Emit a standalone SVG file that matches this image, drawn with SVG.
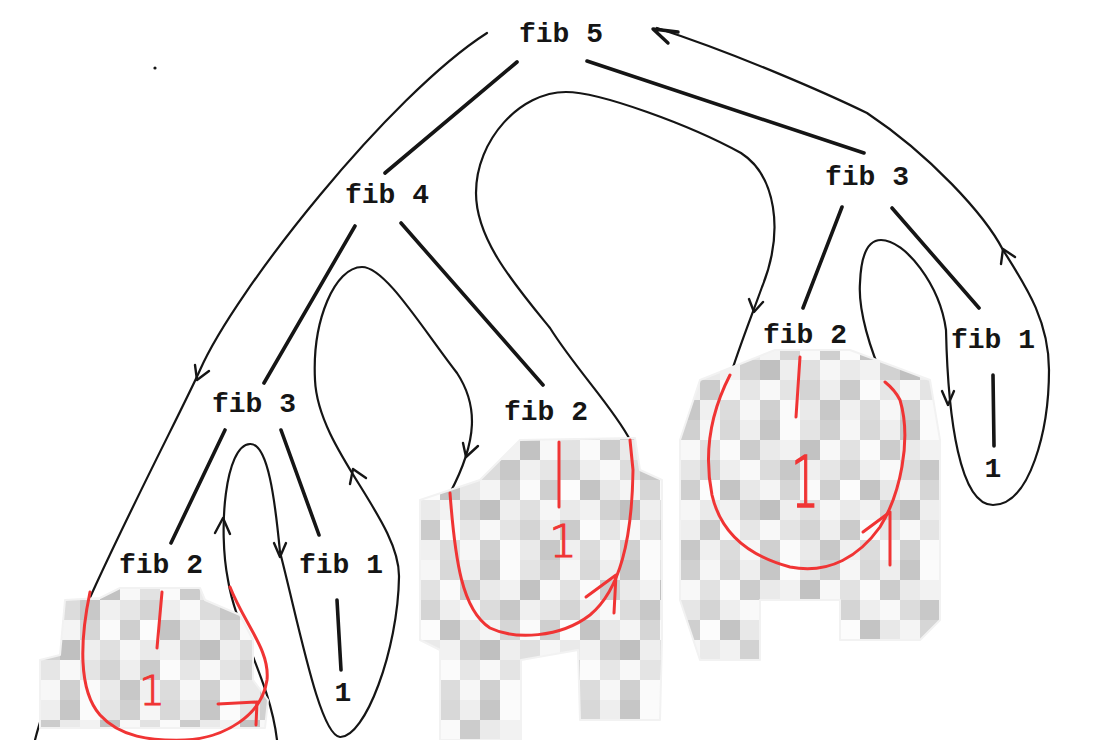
<svg xmlns="http://www.w3.org/2000/svg" width="1096" height="740" viewBox="0 0 1096 740">
<defs>
<style>
.lbl{font-family:"Liberation Mono","DejaVu Sans Mono",monospace;font-weight:bold;font-size:28px;text-anchor:middle;fill:#151515}
.edge{stroke:#151515;stroke-width:3.6;stroke-linecap:round;fill:none}
.trace{stroke:#151515;stroke-width:2.2;fill:none;stroke-linecap:round;stroke-linejoin:round}
.arr{stroke:#151515;stroke-width:2.4;fill:none;stroke-linecap:round;stroke-linejoin:round}
.red{stroke:#f03434;stroke-width:3;fill:none;stroke-linecap:round;stroke-linejoin:round}
.rtxt{font-family:"DejaVu Sans",sans-serif;font-weight:200;fill:#f03434;stroke:#f03434;stroke-width:1;text-anchor:middle}
.mosaic{fill:url(#mz);stroke:#f2f2f2;stroke-width:2;stroke-linejoin:round}
</style>
<pattern id="mz" width="140" height="140" patternUnits="userSpaceOnUse">
<rect width="140" height="140" fill="#ececec"/>
<rect x="0" y="0" width="20" height="20" fill="#f6f6f6"/><rect x="20" y="0" width="20" height="20" fill="#d8d8d8"/><rect x="40" y="0" width="20" height="20" fill="#eeeeee"/><rect x="60" y="0" width="20" height="20" fill="#c6c6c6"/><rect x="80" y="0" width="20" height="20" fill="#fbfbfb"/><rect x="100" y="0" width="20" height="20" fill="#e4e4e4"/><rect x="120" y="0" width="20" height="20" fill="#d0d0d0"/>
<rect x="0" y="20" width="20" height="20" fill="#e2e2e2"/><rect x="20" y="20" width="20" height="20" fill="#fafafa"/><rect x="40" y="20" width="20" height="20" fill="#cccccc"/><rect x="60" y="20" width="20" height="20" fill="#eaeaea"/><rect x="80" y="20" width="20" height="20" fill="#f2f2f2"/><rect x="100" y="20" width="20" height="20" fill="#c2c2c2"/><rect x="120" y="20" width="20" height="20" fill="#f8f8f8"/>
<rect x="0" y="40" width="20" height="20" fill="#d4d4d4"/><rect x="20" y="40" width="20" height="20" fill="#eeeeee"/><rect x="40" y="40" width="20" height="20" fill="#f9f9f9"/><rect x="60" y="40" width="20" height="20" fill="#dcdcdc"/><rect x="80" y="40" width="20" height="20" fill="#c8c8c8"/><rect x="100" y="40" width="20" height="20" fill="#f0f0f0"/><rect x="120" y="40" width="20" height="20" fill="#e6e6e6"/>
<rect x="0" y="60" width="20" height="20" fill="#fcfcfc"/><rect x="20" y="60" width="20" height="20" fill="#c4c4c4"/><rect x="40" y="60" width="20" height="20" fill="#e8e8e8"/><rect x="60" y="60" width="20" height="20" fill="#f4f4f4"/><rect x="80" y="60" width="20" height="20" fill="#d6d6d6"/><rect x="100" y="60" width="20" height="20" fill="#fafafa"/><rect x="120" y="60" width="20" height="20" fill="#cfcfcf"/>
<rect x="0" y="80" width="20" height="20" fill="#eaeaea"/><rect x="20" y="80" width="20" height="20" fill="#f2f2f2"/><rect x="40" y="80" width="20" height="20" fill="#d2d2d2"/><rect x="60" y="80" width="20" height="20" fill="#c0c0c0"/><rect x="80" y="80" width="20" height="20" fill="#eeeeee"/><rect x="100" y="80" width="20" height="20" fill="#e0e0e0"/><rect x="120" y="80" width="20" height="20" fill="#f6f6f6"/>
<rect x="0" y="100" width="20" height="20" fill="#cbcbcb"/><rect x="20" y="100" width="20" height="20" fill="#fbfbfb"/><rect x="40" y="100" width="20" height="20" fill="#e6e6e6"/><rect x="60" y="100" width="20" height="20" fill="#f8f8f8"/><rect x="80" y="100" width="20" height="20" fill="#e4e4e4"/><rect x="100" y="100" width="20" height="20" fill="#d4d4d4"/><rect x="120" y="100" width="20" height="20" fill="#eeeeee"/>
<rect x="0" y="120" width="20" height="20" fill="#f0f0f0"/><rect x="20" y="120" width="20" height="20" fill="#dcdcdc"/><rect x="40" y="120" width="20" height="20" fill="#f7f7f7"/><rect x="60" y="120" width="20" height="20" fill="#d0d0d0"/><rect x="80" y="120" width="20" height="20" fill="#fafafa"/><rect x="100" y="120" width="20" height="20" fill="#eaeaea"/><rect x="120" y="120" width="20" height="20" fill="#c8c8c8"/>
</pattern>
</defs>
<rect width="1096" height="740" fill="#ffffff"/>
<circle cx="155" cy="68" r="1.6" fill="#151515"/>

<g id="connectors">
<g id="tree-edges">
<path class="edge" d="M517,62 L385,173"/>
<path class="edge" d="M587,61 L864,153"/>
<path class="edge" d="M355,226 L264,383"/>
<path class="edge" d="M401,223 L543,385"/>
<path class="edge" d="M842,207 L803,308"/>
<path class="edge" d="M892,208 L979,308"/>
<path class="edge" d="M225,430 L171,543"/>
<path class="edge" d="M281,430 L319,535"/>
<path class="edge" d="M993,375 L994,446"/>
<path class="edge" d="M337,600 L341,670"/>
</g>
<g id="trace">
<path class="trace" d="M487,33 C390,95 235,290 200,370 C180,416 60,640 35,740"/>
<path class="trace" d="M277,740 C270,680 236,630 228,580 C218,530 225,445 250,444 C268,443 275,500 280,552 C300,630 320,735 340,737 C365,738 398,650 399,577 C400,520 318,450 315,380 C312,320 335,267 362,267 C385,267 420,325 457,373 C478,405 478,440 450,493"/>
<path class="trace" d="M630,440 C615,410 575,368 550,328 C515,285 476,240 476,193 C476,140 520,92 566,92 C600,92 690,125 741,153 C775,175 785,230 762,287 C752,315 738,350 730,377"/>
<path class="trace" d="M885,382 C870,350 858,310 860,283 C861,255 868,240 881,240 C905,240 940,285 946,330 C948,420 960,505 993,505 C1030,505 1049,430 1049,370 C1049,320 1025,285 1003,250 C985,215 930,155 867,113 C830,95 740,55 657,28"/>
<path class="arr" d="M195,365 L197,380 L209,371"/>
<path class="arr" d="M215,533 L223,518 L230,534"/>
<path class="arr" d="M274,543 L280,557 L286,543"/>
<path class="arr" d="M350,484 L353,469 L366,478"/>
<path class="arr" d="M463,443 L466,457 L478,446"/>
<path class="arr" d="M749,299 L754,312 L763,302"/>
<path class="arr" d="M942,391 L948,405 L954,391"/>
<path class="arr" d="M1001,264 L1003,249 L1015,257"/>
<path class="arr" d="M668,43 L653,29 L678,32" style="stroke-width:3.4"/>
</g>
</g>

<g id="mosaics">
<path class="mosaic" d="M65,600 L100,598 L120,588 L200,588 L205,600 L240,615 L253,640 L253,680 L268,700 L265,728 L40,728 L40,660 L60,655 Z"/>
<path class="mosaic" d="M420,500 L480,480 L520,440 L635,438 L640,470 L662,480 L662,640 L660,720 L580,720 L578,650 L521,660 L521,740 L440,740 L440,650 L420,640 Z"/>
<path class="mosaic" d="M700,380 L775,350 L850,350 L930,380 L940,440 L940,620 L920,640 L840,640 L840,600 L760,600 L760,660 L700,660 L680,600 L680,440 Z"/>
</g>

<g id="red-trace">
<path class="red" d="M90,592 C80,640 78,690 100,715 C120,737 150,741 185,740 C225,738 262,715 267,680 C270,650 245,625 230,587"/>
<path class="red" d="M218,704 L257,702 L256,725"/>
<path class="red" d="M450,493 C455,560 462,610 490,628 C515,640 560,638 590,615 C620,590 632,540 633,470 L630,440"/>
<path class="red" d="M586,597 L616,575 L614,613"/>
<path class="red" d="M730,375 C712,410 703,450 712,495 C720,530 745,555 790,567 C830,575 860,555 880,527 C900,495 912,440 900,400 C896,392 890,386 885,382"/>
<path class="red" d="M863,532 L890,512 L890,565"/>
<path class="red" d="M162,592 L157,648"/>
<path class="red" d="M559,442 L559,507"/>
<path class="red" d="M800,357 L796,417"/>
</g>

<g id="n-fib5"><text class="lbl" x="561" y="42">fib 5</text></g>
<g id="n-fib4"><text class="lbl" x="387" y="203">fib 4</text></g>
<g id="n-fib3-right"><text class="lbl" x="867" y="185">fib 3</text></g>
<g id="n-fib3-left"><text class="lbl" x="254" y="412">fib 3</text></g>
<g id="n-fib2-mid"><text class="lbl" x="546" y="420">fib 2</text></g>
<g id="n-fib2-right"><text class="lbl" x="805" y="343">fib 2</text></g>
<g id="n-fib1-right"><text class="lbl" x="993" y="348">fib 1</text></g>
<g id="n-fib2-left"><text class="lbl" x="161" y="573">fib 2</text></g>
<g id="n-fib1-left"><text class="lbl" x="341" y="573">fib 1</text></g>
<g id="n-one-right"><text class="lbl" x="993" y="477">1</text></g>
<g id="n-one-left"><text class="lbl" x="343" y="701">1</text></g>
<g id="n-red-one-left"><text class="rtxt" x="152" y="705" font-size="41">1</text></g>
<g id="n-red-one-mid"><text class="rtxt" x="563" y="557" font-size="44">1</text></g>
<g id="n-red-one-right"><text class="rtxt" font-size="44" transform="translate(805,507) scale(1,1.6)">1</text></g>
</svg>
